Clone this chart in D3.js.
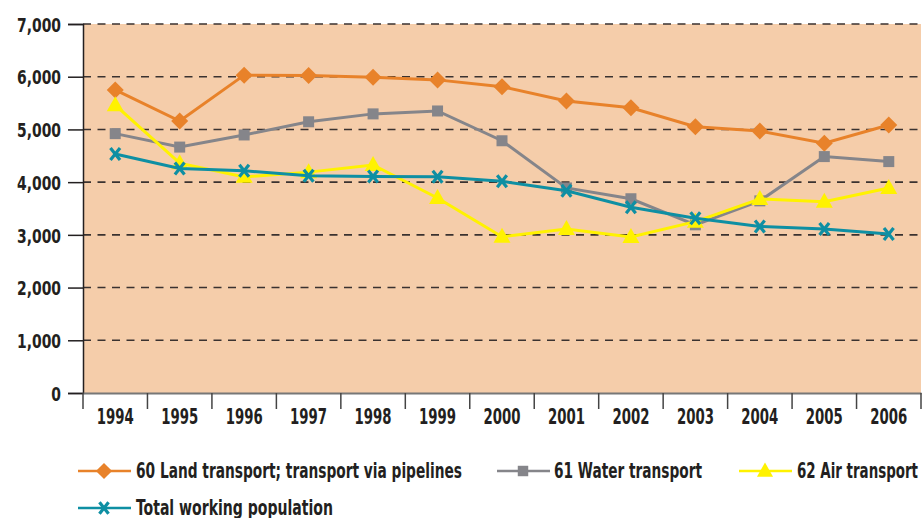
<!DOCTYPE html>
<html><head><meta charset="utf-8">
<script src="https://cdn.jsdelivr.net/npm/d3@7"></script>
<style>
body{margin:0;background:#fff;}
text{font-family:"Liberation Sans Narrow","DejaVu Sans Condensed","Arial Narrow",sans-serif;font-weight:bold;fill:#231f20;}
</style></head><body>
<svg id="c" width="924" height="518"></svg>
<script>
const years = ["1994","1995","1996","1997","1998","1999","2000","2001","2002","2003","2004","2005","2006"];
const land  = [5750,5160,6030,6025,5990,5940,5810,5540,5410,5050,4970,4740,5085];
const water = [4920,4665,4895,5145,5295,5350,4785,3890,3685,3190,3645,4485,4390];
const air   = [5460,4360,4100,4190,4325,3700,2965,3110,2960,3250,3680,3630,3890];
const total = [4535,4260,4215,4120,4105,4100,4015,3835,3525,3315,3160,3110,3015];
const yTicks = [0,1000,2000,3000,4000,5000,6000,7000];
const seriesNames = ["60 Land transport; transport via pipelines","61 Water transport","62 Air transport","Total working population"];

const svg = d3.select("#c");
const L=83, R=921, T=24, B=393;
const x = d3.scaleBand().domain(years).range([L,R]);
const y = d3.scaleLinear().domain([0,7000]).range([B,T]);

svg.append("rect").attr("x",L).attr("y",T).attr("width",R-L).attr("height",B-T).attr("fill","#F5CDAA");

// gridlines
svg.append("g").selectAll("line").data(yTicks.filter(d=>d>0)).join("line")
  .attr("x1",L).attr("x2",R).attr("y1",d=>y(d)).attr("y2",d=>y(d))
  .attr("stroke","#3a3230").attr("stroke-width",1.6).attr("stroke-dasharray","8,6.5");

function squeeze(sel, refText, target){
  const tmp = svg.append("text").attr("font-size",sel.attr("font-size")).text(refText);
  const k = target / tmp.node().getComputedTextLength();
  tmp.remove();
  sel.each(function(){
    const w = this.getComputedTextLength();
    d3.select(this).attr("textLength", w*k).attr("lengthAdjust","spacingAndGlyphs");
  });
}

// y axis
const ya = svg.append("g").attr("transform",`translate(${L},0)`)
  .call(d3.axisLeft(y).tickValues(yTicks).tickFormat(d3.format(",")).tickSize(15).tickPadding(7));
ya.attr("font-family",null).attr("font-size",null);
ya.select(".domain").attr("stroke","#231f20").attr("stroke-width",1.5);
ya.selectAll(".tick line").attr("stroke","#231f20").attr("stroke-width",1.5);
const yt = ya.selectAll("text").attr("font-size",20).attr("dy","0.36em");
squeeze(yt,"7,000",44);

// x axis
const xa = svg.append("g").attr("transform",`translate(0,${B})`)
  .call(d3.axisBottom(x).tickSize(0).tickPadding(0));
xa.attr("font-family",null).attr("font-size",null);
xa.select(".domain").attr("stroke","#777").attr("stroke-width",2);
const xt = xa.selectAll("text").attr("font-size",21).attr("dy",null).attr("y",31);
squeeze(xt,"1994",37);
svg.append("g").selectAll("line").data(d3.range(years.length+1)).join("line")
  .attr("x1",i=>L+i*x.step()).attr("x2",i=>L+i*x.step()).attr("y1",B).attr("y2",B+16)
  .attr("stroke","#444").attr("stroke-width",1.5);

const cx = d=>x(d)+x.bandwidth()/2;
const line = d3.line().x((d,i)=>cx(years[i])).y(d=>y(d));

const series = [
  {v:land, c:"#E8822A", m:"diamond"},
  {v:water,c:"#85858A", m:"square"},
  {v:air,  c:"#FFF200", m:"triangle"},
  {v:total,c:"#0E8FA3", m:"x"}
];

function marker(g, type, c, px, py, s){
  s = s||1;
  if(type==="diamond"){
    g.append("path").attr("d",`M${px},${py-8.5*s}L${px+8.5*s},${py}L${px},${py+8.5*s}L${px-8.5*s},${py}Z`).attr("fill",c);
  } else if(type==="square"){
    g.append("rect").attr("x",px-5.5*s).attr("y",py-5.5*s).attr("width",11*s).attr("height",11*s).attr("fill",c);
  } else if(type==="triangle"){
    g.append("path").attr("d",`M${px},${py-9*s}L${px+8.5*s},${py+6*s}L${px-8.5*s},${py+6*s}Z`).attr("fill",c);
  } else {
    const r=6*s;
    g.append("path").attr("d",`M${px-r*0.8},${py-r}L${px+r*0.8},${py+r}M${px+r*0.8},${py-r}L${px-r*0.8},${py+r}`)
      .attr("stroke",c).attr("stroke-width",3.2).attr("fill","none");
  }
}

series.forEach(s=>{
  svg.append("path").datum(s.v).attr("d",line).attr("fill","none").attr("stroke",s.c).attr("stroke-width",3);
  const g = svg.append("g");
  s.v.forEach((v,i)=>marker(g,s.m,s.c,cx(years[i]),y(v)));
});

// legend
const leg = [
  {x:78, y:471, tx:136, w:326},
  {x:497,y:471, tx:554, w:148},
  {x:739,y:471, tx:797, w:121},
  {x:78, y:508, tx:136, w:197}
];
seriesNames.forEach((n,i)=>{
  const p=leg[i], s=series[i];
  const g=svg.append("g");
  g.append("line").attr("x1",p.x).attr("x2",p.x+53).attr("y1",p.y).attr("y2",p.y).attr("stroke",s.c).attr("stroke-width",2.5);
  marker(g,s.m,s.c,p.x+26,p.y,0.95);
  g.append("text").attr("x",p.tx).attr("y",p.y+7).attr("font-size",21)
    .attr("textLength",p.w).attr("lengthAdjust","spacingAndGlyphs").text(n);
});
</script></body></html>
